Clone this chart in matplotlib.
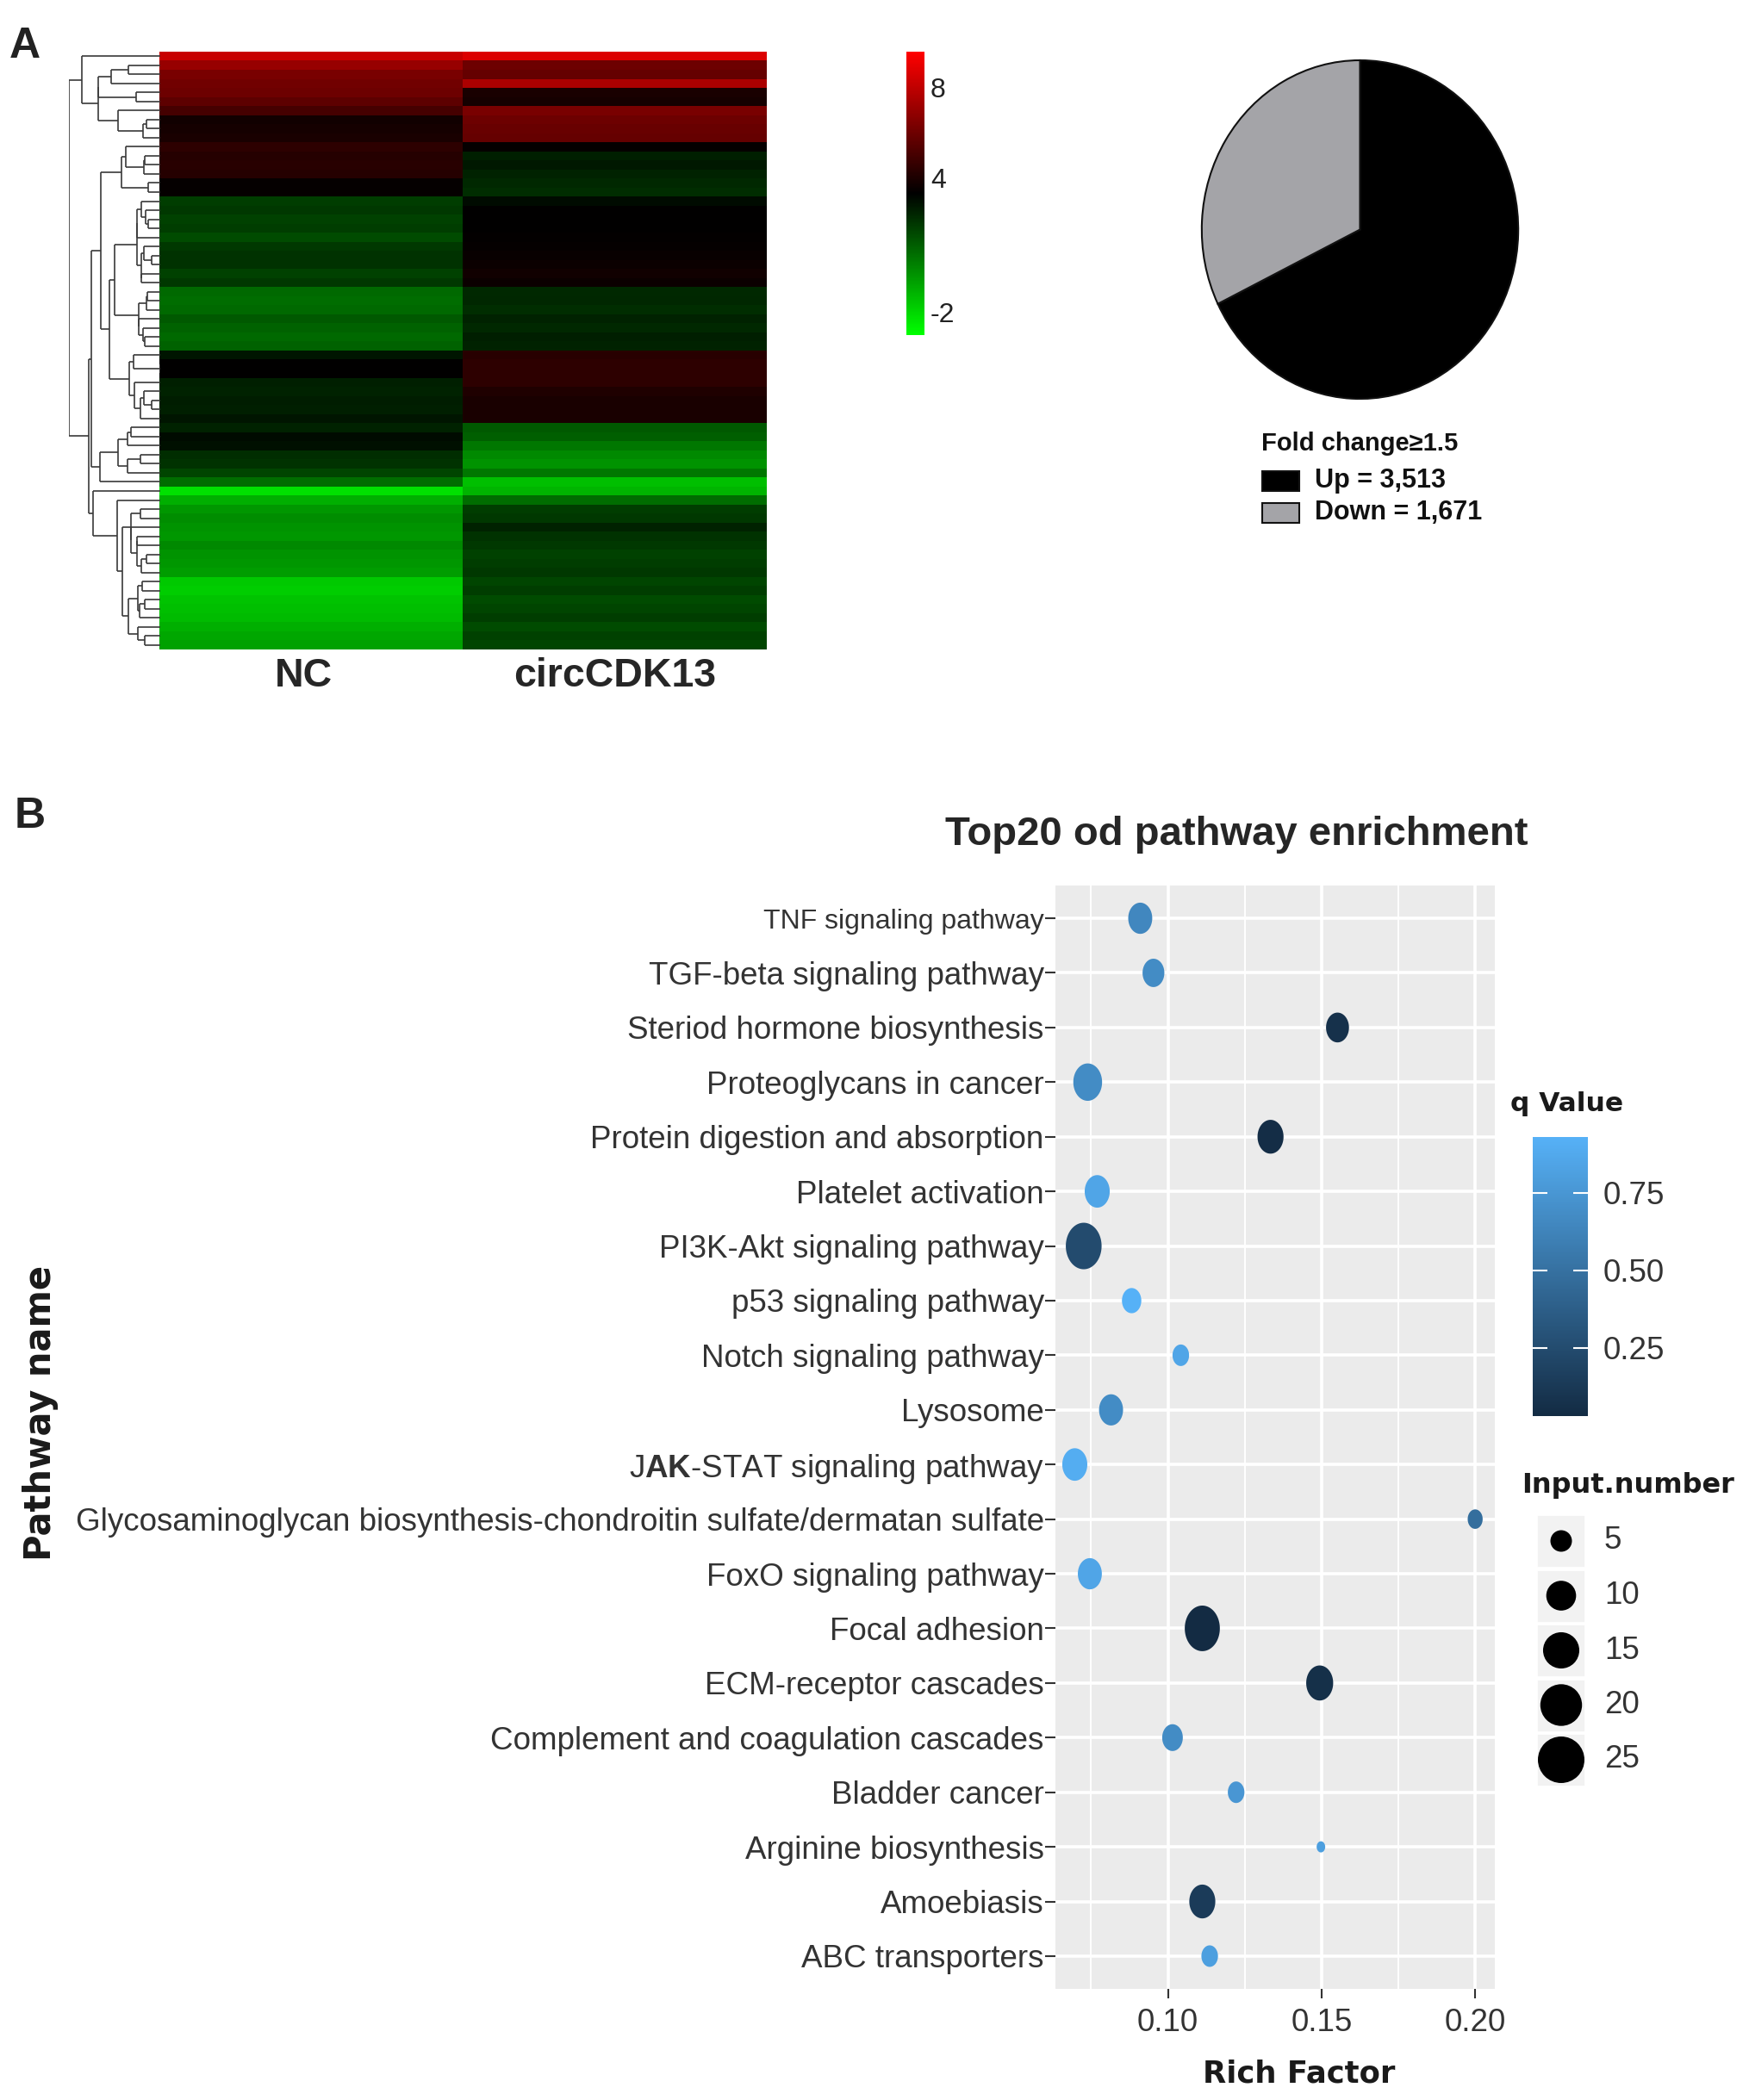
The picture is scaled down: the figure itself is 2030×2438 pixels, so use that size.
import numpy as np
import matplotlib
matplotlib.use("Agg")
import matplotlib.pyplot as plt
from matplotlib.colors import LinearSegmentedColormap, Normalize
from matplotlib.path import Path
from matplotlib.patches import Rectangle
from matplotlib.collections import LineCollection
import matplotlib.cm as cm

plt.rcParams['font.family'] = ['Liberation Sans', 'DejaVu Sans']
plt.rcParams['axes.unicode_minus'] = False
plt.rcParams['mathtext.fontset'] = 'custom'
plt.rcParams['mathtext.rm'] = 'Liberation Sans'
plt.rcParams['mathtext.bf'] = 'Liberation Sans:bold'

W, H, DPI = 2031, 2438, 100

# ---------------- data ----------------
samples = ["NC", "circCDK13"]
nc_expr = [8.2, 7.0, 6.3, 6.1, 6.0, 5.6, 5.0, 3.7, 3.8, 3.9, 4.4, 4.2, 4.3, 4.2, 3.4, 3.4,
           1.8, 1.9, 1.7, 1.8, 1.45, 1.9, 2.05, 2.05, 1.7, 1.9,
           0.7, 0.6, 0.7, 1.1, 0.85, 0.7, 0.85,
           2.8, 3.3, 3.3, 2.55, 2.45, 2.6, 2.55, 2.8, 2.45, 3.05, 2.9, 2.2, 2.05, 1.6, 0.6,
           -2.25, -1.0, -0.4, -0.15, -0.3, -0.4, -0.05, -0.3, -0.4, -0.55,
           -1.65, -1.75, -1.5, -1.4, -1.3, -1.0, -0.8, -0.65]
circ_expr = [8.7, 6.0, 5.8, 7.5, 3.9, 3.8, 6.3, 6.0, 5.9, 5.8, 3.4, 2.55, 2.7, 2.45, 2.3, 2.2,
             3.05, 3.3, 3.3, 3.3, 3.35, 3.4, 3.5, 3.55, 3.7, 3.55,
             2.3, 2.35, 2.2, 2.45, 2.3, 2.55, 2.45,
             4.3, 4.4, 4.4, 4.4, 4.05, 3.9, 3.9, 3.9, 1.1, 0.95, 0.35, -0.05, -0.3, 0.35, -1.4,
             -1.15, 0.6, 1.8, 1.9, 2.45, 2.05, 1.9, 1.7, 1.8, 1.9,
             1.6, 1.8, 1.45, 1.6, 1.8, 1.45, 1.7, 1.6]
heat_ticks = [8, 4, -2]

pie_labels = ["Up", "Down"]
pie_counts = [3513, 1671]
pie_title = "Fold change\u22651.5"

pathways = ["TNF signaling pathway", "TGF-beta signaling pathway", "Steriod hormone biosynthesis",
            "Proteoglycans in cancer", "Protein digestion and absorption", "Platelet activation",
            "PI3K-Akt signaling pathway", "p53 signaling pathway", "Notch signaling pathway",
            "Lysosome", "JAK-STAT signaling pathway",
            "Glycosaminoglycan biosynthesis-chondroitin sulfate/dermatan sulfate",
            "FoxO signaling pathway", "Focal adhesion", "ECM-receptor cascades",
            "Complement and coagulation cascades", "Bladder cancer", "Arginine biosynthesis",
            "Amoebiasis", "ABC transporters"]
rich_factor = [0.0910, 0.0953, 0.1552, 0.0739, 0.1334, 0.0770, 0.0726, 0.0882, 0.1042, 0.0815,
               0.0697, 0.2000, 0.0746, 0.1112, 0.1494, 0.1015, 0.1222, 0.1498, 0.1112, 0.1136]
q_value = [0.65, 0.68, 0.075, 0.68, 0.045, 0.85, 0.245, 0.93, 0.85, 0.68,
           0.90, 0.48, 0.85, 0.03, 0.065, 0.68, 0.75, 0.81, 0.14, 0.81]
input_number = [11, 9, 10, 16, 13, 12, 25, 7, 5, 11, 12, 4, 11, 24, 14, 8, 5, 1, 13, 5]
size_breaks = [5, 10, 15, 20, 25]
q_ticks = [0.25, 0.50, 0.75]
rf_ticks = [0.10, 0.15, 0.20]
rf_minor = [0.075, 0.125, 0.175]


def rect(x0, y0, x1, y1):
    return [x0 / W, 1 - y1 / H, (x1 - x0) / W, (y1 - y0) / H]


def dot_px(n):
    return np.sqrt(52.5 + 114.5 * np.asarray(n, dtype=float))


fig = plt.figure(figsize=(W / DPI, H / DPI), dpi=DPI)
fig.patch.set_facecolor('white')

# ---------------- Panel A: heatmap ----------------
hm = np.column_stack([nc_expr, circ_expr])
nrow = hm.shape[0]
heat_cmap = LinearSegmentedColormap.from_list('gbr', ['#00ff00', '#000000', '#ff0000'])
heat_norm = Normalize(vmin=-3.0, vmax=9.6)
ax_h = fig.add_axes(rect(185, 60, 890, 754))
ax_h.imshow(hm, aspect='auto', cmap=heat_cmap, norm=heat_norm, interpolation='nearest',
            extent=(0, 2, nrow, 0))
ax_h.set_xlim(0, 2)
ax_h.set_ylim(nrow, 0)
ax_h.axis('off')

# dendrogram (adjacency-constrained average linkage of the rows)
D = np.sqrt(((hm[:, None, :] - hm[None, :, :]) ** 2).sum(-1))
clusters = [{'m': [i], 'h': 0.0, 'p': i + 0.5} for i in range(nrow)]
segs = []
while len(clusters) > 1:
    best = None
    for k in range(len(clusters) - 1):
        a, b = clusters[k], clusters[k + 1]
        d = D[np.ix_(a['m'], b['m'])].mean()
        if best is None or d < best[0]:
            best = (d, k)
    d, k = best
    a, b = clusters[k], clusters[k + 1]
    h = max(d, a['h'], b['h'])
    segs.append([(a['h'], a['p']), (h, a['p'])])
    segs.append([(b['h'], b['p']), (h, b['p'])])
    segs.append([(h, a['p']), (h, b['p'])])
    clusters[k:k + 2] = [{'m': a['m'] + b['m'], 'h': h, 'p': (a['p'] + b['p']) / 2}]
hmax = clusters[0]['h']
segs_s = [[(np.sqrt(x / hmax), y) for x, y in s] for s in segs]
ax_d = fig.add_axes(rect(80, 60, 186, 754))
ax_d.add_collection(LineCollection(segs_s, colors='#3a3a3a', linewidths=1.2))
ax_d.set_xlim(1.0, 0)
ax_d.set_ylim(nrow, 0)
ax_d.axis('off')

# heatmap colorbar
ax_cb1 = fig.add_axes(rect(1052, 60, 1073, 389))
cb1 = fig.colorbar(cm.ScalarMappable(norm=heat_norm, cmap=heat_cmap), cax=ax_cb1, ticks=heat_ticks)
cb1.outline.set_visible(False)
ax_cb1.tick_params(length=0, labelsize=23, pad=5, labelcolor='#222222')
ax_cb1.minorticks_off()

# pie
ax_p = fig.add_axes(rect(1393, 68, 1764, 465))
ax_p.pie(pie_counts, colors=['#000000', '#a4a4a8'], startangle=90, counterclock=False,
         wedgeprops=dict(edgecolor='#111111', linewidth=1.5))
ax_p.set_aspect('auto')
ax_p.set_xlim(-1.01, 1.01)
ax_p.set_ylim(-1.01, 1.01)
ax_p.axis('off')

# ---------------- Panel B: bubble chart ----------------
npw = len(pathways)
ypos = np.arange(npw)[::-1]
q_cmap = LinearSegmentedColormap.from_list('ggblue', ['#132B43', '#56B1F7'])
q_norm = Normalize(vmin=min(q_value), vmax=max(q_value))

t = np.linspace(0, 2 * np.pi, 120)
ell = Path(np.column_stack([np.cos(t) / 1.3, np.sin(t)]))

ax = fig.add_axes(rect(1225, 1028, 1735, 2309))
ax.set_facecolor('#EBEBEB')
ax.scatter(rich_factor, ypos, s=(dot_px(input_number) * 0.72) ** 2, c=q_value, cmap=q_cmap,
           norm=q_norm, marker=ell, linewidths=0, zorder=3)
ax.set_xlim(0.0634, 0.2064)
ax.set_ylim(-0.6, npw - 0.4)
ax.set_xticks(rf_ticks)
ax.set_xticklabels([f"{v:.2f}" for v in rf_ticks])
ax.set_xticks(rf_minor, minor=True)
ax.set_yticks(ypos)
ylabels = [p.replace('JAK', r'J$\mathbf{AK}$') for p in pathways]
ax.set_yticklabels(ylabels)
ax.grid(which='major', color='white', linewidth=2.6)
ax.grid(which='minor', axis='x', color='white', linewidth=1.4)
ax.set_axisbelow(True)
for s in ax.spines.values():
    s.set_visible(False)
ax.tick_params(axis='y', length=8.6, width=1.5, color='#333333', pad=1, labelsize=26.5,
               labelcolor='#333333')
ax.tick_params(axis='x', which='major', length=8, width=1.5, color='#333333', pad=8,
               labelsize=26.5, labelcolor='#333333')
ax.tick_params(axis='x', which='minor', length=0)
ax.get_yticklabels()[0].set_fontsize(23)

# q colorbar
ax_q = fig.add_axes(rect(1779, 1320, 1843, 1644))
cbq = fig.colorbar(cm.ScalarMappable(norm=q_norm, cmap=q_cmap), cax=ax_q, ticks=q_ticks)
cbq.outline.set_visible(False)
ax_q.minorticks_off()
ax_q.set_yticklabels([f"{v:.2f}" for v in q_ticks])
ax_q.tick_params(which='major', direction='in', color='white', length=12, width=1.5,
                 left=True, right=True, labelleft=False, labelright=True, labelsize=26.5,
                 pad=13, labelcolor='#333333')

# ---------------- overlay for texts / legends ----------------
ov = fig.add_axes([0, 0, 1, 1])
ov.set_xlim(0, W)
ov.set_ylim(H, 0)
ov.axis('off')
ov.patch.set_visible(False)

ov.text(11, 67, "A", fontsize=36, fontweight='bold', color='#222222', ha='left', va='baseline')
ov.text(17, 961, "B", fontsize=36, fontweight='bold', color='#222222', ha='left', va='baseline')

ov.text(352, 785, samples[0], fontsize=33.5, fontweight='bold', color='#262626',
        ha='center', va='center')
ov.text(714, 785, samples[1], fontsize=33.5, fontweight='bold', color='#262626',
        ha='center', va='center')

# pie legend
ov.text(1464, 515, pie_title, fontsize=21, fontweight='bold', color='#111111',
        ha='left', va='center')
pie_cols = ['#000000', '#a4a4a8']
for i, (lab, cnt) in enumerate(zip(pie_labels, pie_counts)):
    yc = 558 + 37 * i
    ov.add_patch(Rectangle((1465, yc - 11.5), 43, 23, facecolor=pie_cols[i],
                           edgecolor='#111111', linewidth=1.5))
    ov.text(1526, yc, f"{lab} = {cnt:,}", fontsize=22, fontweight='bold', color='#111111',
            ha='left', va='center')

# panel B titles
ov.text(1435, 969, "Top20 od pathway enrichment", fontsize=34, fontweight='bold',
        color='#262626', ha='center', va='center')
ov.text(1508, 2407, "Rich Factor", fontsize=25.5, fontweight='bold', color='#1a1a1a',
        ha='center', va='center', family='DejaVu Sans')
ov.text(47, 1640, "Pathway name", fontsize=30, fontweight='bold', color='#1a1a1a',
        ha='center', va='center', rotation=90, family='DejaVu Sans')
ov.text(1753, 1282, "q Value", fontsize=22.5, fontweight='bold', color='#1a1a1a',
        ha='left', va='center', family='DejaVu Sans')
ov.text(1766, 1725, "Input.number", fontsize=23, fontweight='bold', color='#1a1a1a',
        ha='left', va='center', family='DejaVu Sans')

# size legend
leg_y = 1789 + 63.5 * np.arange(len(size_breaks))
for yc in leg_y:
    ov.add_patch(Rectangle((1783, yc - 31), 57, 62, facecolor='#F2F2F2', edgecolor='white',
                           linewidth=2))
ov.scatter([1812] * len(size_breaks), leg_y, s=(dot_px(size_breaks) * 0.72) ** 2, c='black',
           linewidths=0, zorder=3)
for yc, v in zip(leg_y, size_breaks):
    ov.text(1862, yc, str(v), fontsize=26.5, color='#333333', ha='left', va='center')

fig.savefig("out.png", dpi=DPI, facecolor='white')
